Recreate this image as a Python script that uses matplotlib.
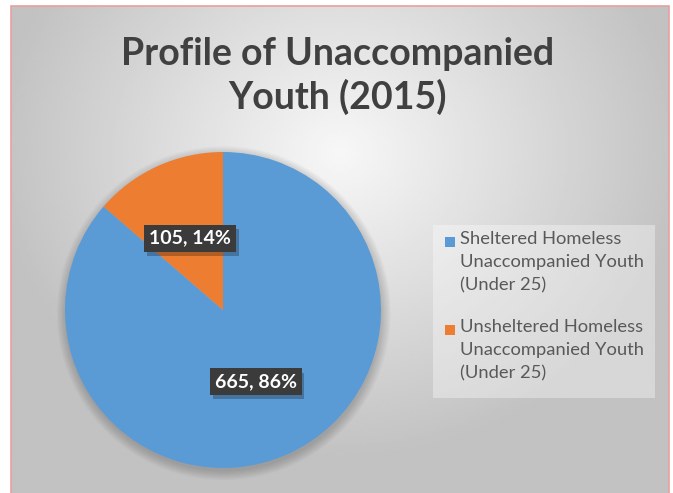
import numpy as np
import matplotlib
matplotlib.use("Agg")
import matplotlib.pyplot as plt
import matplotlib.patheffects as pe
from matplotlib.patches import Rectangle, Circle

# data
labels = ["Sheltered Homeless\nUnaccompanied Youth\n(Under 25)",
          "Unsheltered Homeless\nUnaccompanied Youth\n(Under 25)"]
counts = [665, 105]
colors = ["#5B9BD5", "#ED7D31"]
title = "Profile of Unaccompanied\nYouth (2015)"

W, H = 673, 493
plt.rcParams["font.family"] = ["Lato", "DejaVu Sans"]

fig = plt.figure(figsize=(W / 100, H / 100), dpi=100)
fig.patch.set_facecolor("white")


def px_box(x0, y0, x1, y1):
    # pixel box (top-left origin) -> figure fraction [l, b, w, h]
    return [x0 / W, 1 - y1 / H, (x1 - x0) / W, (y1 - y0) / H]


# chart area background: soft radial gray gradient
bg = fig.add_axes(px_box(11, 6, 669, 493))
bg.set_axis_off()
yy, xx = np.mgrid[0:1:200j, 0:1:300j]
d = np.sqrt(((xx - 0.5) / 0.75) ** 2 + ((yy - 0.3) / 0.9) ** 2)
shade = np.clip(0.97 - 0.3 * d, 0.76, 0.97)
bg.imshow(shade, cmap="gray", vmin=0, vmax=1, aspect="auto",
          extent=[0, 1, 0, 1], interpolation="bilinear")
bg.set_xlim(0, 1)
bg.set_ylim(0, 1)

# pink frame
fig.patches.append(Rectangle((11 / W, -0.01), (669 - 11) / W, 1 - 6 / H + 0.01,
                             transform=fig.transFigure, fill=False,
                             edgecolor="#E8A0A0", linewidth=1.2, zorder=10))

fig.text(338 / W, 1 - 76 / H, title, ha="center", va="center",
         fontsize=27, fontweight="bold", color="#404040",
         linespacing=1.28)

# pie
ax = fig.add_axes(px_box(223 - 158, 310 - 158, 223 + 158, 310 + 158))
# soft shadow under the pie
for i in range(8):
    ax.add_patch(Circle((0.005, -0.02), 1.0 + 0.008 * i, facecolor="black",
                        edgecolor="none", alpha=0.025, clip_on=False, zorder=0))
total = sum(counts)


def fmt(p):
    v = int(round(p * total / 100.0))
    return f"{v}, {p:.0f}%"


wedges, texts, autotexts = ax.pie(
    counts, colors=colors, startangle=90, counterclock=False,
    autopct=fmt, pctdistance=0.5, radius=1,
    wedgeprops=dict(linewidth=0, zorder=2),
    textprops=dict(color="white", fontsize=14, fontweight="bold"))
for t in autotexts:
    t.set_zorder(5)
    t.set_bbox(dict(boxstyle="square,pad=0.25", facecolor="#3B3B3B",
                    edgecolor="none"))
    t.get_bbox_patch().set_path_effects(
        [pe.SimplePatchShadow(offset=(2, -3), shadow_rgbFace="black", alpha=0.25),
         pe.Normal()])
ax.set_xlim(-1, 1)
ax.set_ylim(-1, 1)
ax.set_aspect("equal")

# legend, laid out by hand so the swatch sits on the first line
fig.patches.append(Rectangle((433 / W, 1 - 398 / H), (655 - 433) / W, (398 - 225) / H,
                             transform=fig.transFigure, facecolor="white",
                             alpha=0.35, edgecolor="none", zorder=3))
entry_top = [242, 330]
for lab, col, y0 in zip(labels, colors, entry_top):
    fig.patches.append(Rectangle((445 / W, 1 - (y0 + 5) / H), 10 / W, 10 / H,
                                 transform=fig.transFigure, facecolor=col,
                                 edgecolor="none", zorder=4))
    fig.text(460 / W, 1 - (y0 - 11) / H, lab, ha="left", va="top",
             fontsize=13.2, color="#595959", linespacing=1.55, zorder=4)

fig.savefig("out.png", dpi=100)
